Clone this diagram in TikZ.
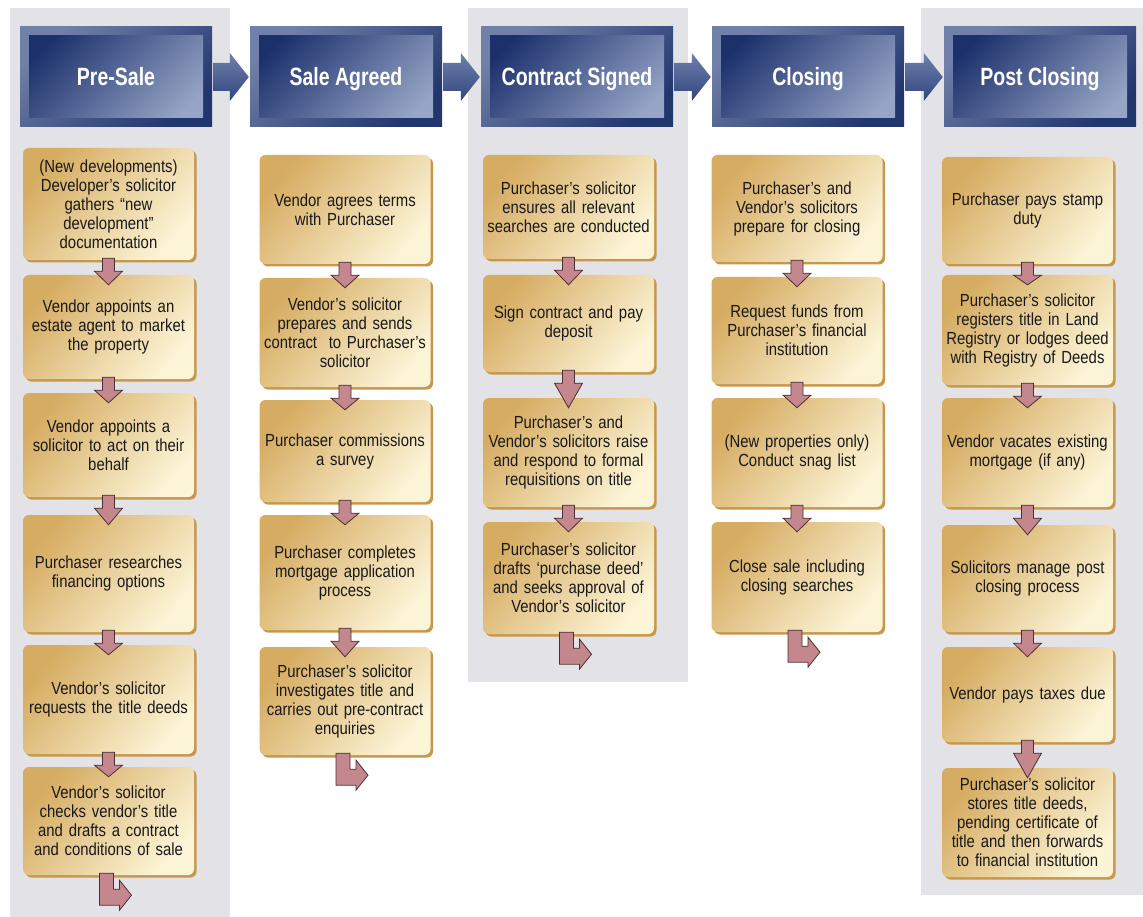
\documentclass[tikz,border=0pt]{standalone}
\usepackage{fontspec}
\setmainfont{Liberation Sans}[FakeStretch=0.85]
\newfontfamily\hdfont{Liberation Sans}[FakeStretch=0.78]
\usetikzlibrary{calc,shadows}

\definecolor{panelgray}{RGB}{227,227,231}
\definecolor{goldDark}{RGB}{214,172,98}
\definecolor{goldLight}{RGB}{252,244,214}
\definecolor{goldShadow}{RGB}{198,152,76}
\definecolor{arrowPink}{RGB}{196,135,142}
\definecolor{arrowEdge}{RGB}{74,48,48}
\definecolor{navyDark}{RGB}{28,48,108}
\definecolor{steelLight}{RGB}{150,165,198}
\definecolor{frameLight}{RGB}{112,128,168}
\definecolor{frameDark}{RGB}{34,54,110}
\definecolor{harrLight}{RGB}{112,128,170}
\definecolor{harrDark}{RGB}{48,70,128}

\tikzset{
  panel/.style={fill=panelgray, draw=none},
  gb/.style={shade, top color=goldDark, bottom color=goldLight, shading angle=50,
    rounded corners=6pt, minimum width=171pt, text width=163pt, align=center,
    inner sep=2pt, font=\fontsize{17.5}{19}\selectfont, text=black!90,
    drop shadow={shadow xshift=2.5pt, shadow yshift=-2.5pt, fill=goldShadow, opacity=1}},
  hd/.style={minimum width=192pt, minimum height=100pt, inner sep=0pt,
    text height=18pt, text depth=1pt,
    top color=frameLight, bottom color=frameDark, shading angle=40,
    text=white, font=\hdfont\bfseries\fontsize{25}{27}\selectfont,
    path picture={\shade[top color=navyDark, bottom color=steelLight, shading angle=45]
      ($(path picture bounding box.south west)+(9pt,9pt)$) rectangle
      ($(path picture bounding box.north east)+(-9pt,-9pt)$);}},
  dnarrow/.style={fill=arrowPink, draw=arrowEdge, line width=0.8pt, line join=miter},
  harrow/.style={top color=harrLight, bottom color=harrDark, draw=none},
}

\newcommand\dnarr[2]{%
  \draw[dnarrow] let \p1=(#1.south), \p2=(#2.north) in
    (\x1-6pt,\y1+2pt) -- (\x1+6pt,\y1+2pt) -- (\x1+6pt,\y1-11pt) -- (\x1+14pt,\y1-11pt)
    -- (\x1,\y2-10pt) -- (\x1-14pt,\y1-11pt) -- (\x1-6pt,\y1-11pt) -- cycle;}
\newcommand\bentarr[1]{%
  \draw[dnarrow] let \p1=(#1.south) in
    (\x1-9pt,\y1+2pt) -- (\x1+5pt,\y1+2pt) -- (\x1+5pt,\y1-14pt) -- (\x1+11pt,\y1-14pt)
    -- (\x1+11pt,\y1-5pt) -- (\x1+23pt,\y1-20pt) -- (\x1+11pt,\y1-35pt) -- (\x1+11pt,\y1-30pt)
    -- (\x1-9pt,\y1-30pt) -- cycle;}
\newcommand\harr[2]{%
  \path[harrow] let \p1=(#1.east), \p2=(#2.west) in
    (\x1+1pt,\y1+14pt) -- (\x2-20pt,\y1+14pt) -- (\x2-20pt,\y1+24pt) -- (\x2-1pt,\y1)
    -- (\x2-20pt,\y1-24pt) -- (\x2-20pt,\y1-14pt) -- (\x1+1pt,\y1-14pt) -- cycle;}

\begin{document}
\begin{tikzpicture}[x=1pt,y=-1pt]
\fill[white] (0,0) rectangle (1143,917);
\useasboundingbox (0,0) rectangle (1143,917);

% panels
\path[panel] (10,8) rectangle (230,917);
\path[panel] (468,8) rectangle (688,682);
\path[panel] (921,8) rectangle (1143,895);

% headers
\node[hd] (h1) at (116,77) {Pre-Sale};
\node[hd] (h2) at (346,77) {Sale Agreed};
\node[hd] (h3) at (577,77) {Contract Signed};
\node[hd] (h4) at (808,77) {Closing};
\node[hd] (h5) at (1040,77) {Post Closing};
\harr{h1}{h2}
\harr{h2}{h3}
\harr{h3}{h4}
\harr{h4}{h5}

% column 1
\node[gb, minimum height=112pt] (a1) at (108.5,204) {(New developments)\\Developer’s solicitor\\gathers “new\\development”\\documentation};
\node[gb, minimum height=104pt] (a2) at (108.5,327) {Vendor appoints an\\estate agent to market\\the property};
\node[gb, minimum height=104pt] (a3) at (108.5,445) {Vendor appoints a\\solicitor to act on their\\behalf};
\node[gb, minimum height=117pt] (a4) at (108.5,573.5) {Purchaser researches\\financing options};
\node[gb, minimum height=109pt] (a5) at (108.5,699.5) {Vendor’s solicitor\\requests the title deeds};
\node[gb, minimum height=108pt] (a6) at (108.5,821) {Vendor’s solicitor\\checks vendor’s title\\and drafts a contract\\and conditions of sale};

% column 2
\node[gb, minimum height=109pt] (b1) at (345,209.5) {Vendor agrees terms\\with Purchaser};
\node[gb, minimum height=109pt] (b2) at (345,332.5) {Vendor’s solicitor\\prepares and sends\\contract\ \ to Purchaser’s\\solicitor};
\node[gb, minimum height=102pt] (b3) at (345,451) {Purchaser commissions\\a survey};
\node[gb, minimum height=115pt] (b4) at (345,572.5) {Purchaser completes\\mortgage application\\process};
\node[gb, minimum height=108pt] (b5) at (345,701) {Purchaser’s solicitor\\investigates title and\\carries out pre-contract\\enquiries};

% column 3
\node[gb, minimum height=104pt] (c1) at (568.5,207) {Purchaser’s solicitor\\ensures all relevant\\searches are conducted};
\node[gb, minimum height=97pt] (c2) at (568.5,323.5) {Sign contract and pay\\deposit};
\node[gb, minimum height=109pt] (c3) at (568.5,452.5) {Purchaser’s and\\Vendor’s solicitors raise\\and respond to formal\\requisitions on title};
\node[gb, minimum height=112pt] (c4) at (568.5,578) {Purchaser’s solicitor\\drafts ‘purchase deed’\\and seeks approval of\\Vendor’s solicitor};

% column 4
\node[gb, minimum height=107pt] (d1) at (797,208.5) {Purchaser’s and\\Vendor’s solicitors\\prepare for closing};
\node[gb, minimum height=107pt] (d2) at (797,330.5) {Request funds from\\Purchaser’s financial\\institution};
\node[gb, minimum height=109pt] (d3) at (797,452.5) {(New properties only)\\Conduct snag list};
\node[gb, minimum height=110pt] (d4) at (797,577) {Close sale including\\closing searches};

% column 5
\node[gb, minimum height=107pt] (e1) at (1027.5,210.5) {Purchaser pays stamp\\duty};
\node[gb, minimum height=110pt] (e2) at (1027.5,330) {Purchaser’s solicitor\\registers title in Land\\Registry or lodges deed\\with Registry of Deeds};
\node[gb, minimum height=109pt] (e3) at (1027.5,452.5) {Vendor vacates existing\\mortgage (if any)};
\node[gb, minimum height=107pt] (e4) at (1027.5,578.5) {Solicitors manage post\\closing process};
\node[gb, minimum height=95pt] (e5) at (1027.5,694.5) {Vendor pays taxes due};
\node[gb, minimum height=109pt] (e6) at (1027.5,822.5) {Purchaser’s solicitor\\stores title deeds,\\pending certificate of\\title and then forwards\\to financial institution};

% down arrows
\dnarr{a1}{a2}\dnarr{a2}{a3}\dnarr{a3}{a4}\dnarr{a4}{a5}\dnarr{a5}{a6}
\dnarr{b1}{b2}\dnarr{b2}{b3}\dnarr{b3}{b4}\dnarr{b4}{b5}
\dnarr{c1}{c2}\dnarr{c2}{c3}\dnarr{c3}{c4}
\dnarr{d1}{d2}\dnarr{d2}{d3}\dnarr{d3}{d4}
\dnarr{e1}{e2}\dnarr{e2}{e3}\dnarr{e3}{e4}\dnarr{e4}{e5}\dnarr{e5}{e6}

% bent arrows
\bentarr{a6}
\bentarr{b5}
\bentarr{c4}
\bentarr{d4}
\end{tikzpicture}
\end{document}
